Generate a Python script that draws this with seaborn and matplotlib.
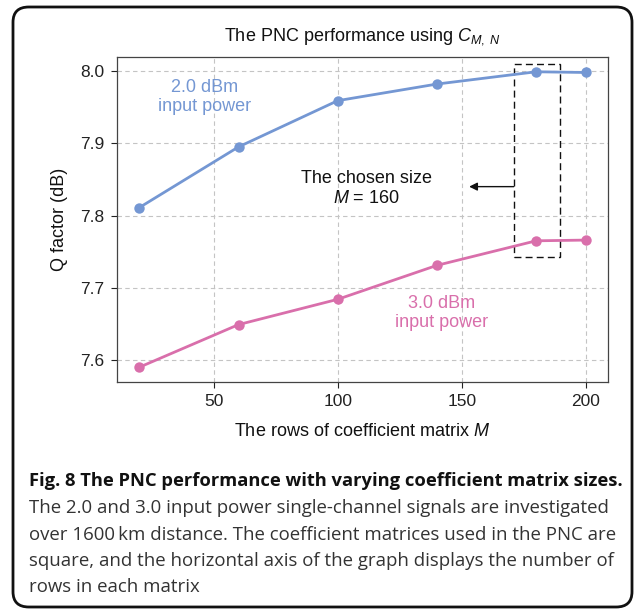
import matplotlib
matplotlib.use("Agg")
import matplotlib.pyplot as plt
import seaborn as sns
import pandas as pd
from matplotlib.patches import FancyBboxPatch, Rectangle

# ---- data ----
rows_m = [20, 60, 100, 140, 180, 200]
q_2dbm = [7.811, 7.895, 7.959, 7.982, 7.999, 7.998]
q_3dbm = [7.590, 7.649, 7.684, 7.731, 7.765, 7.766]
series_names = ["2.0 dBm", "3.0 dBm"]
x_ticks = [50, 100, 150, 200]
y_ticks = [7.6, 7.7, 7.8, 7.9, 8.0]

title = "The PNC performance using $C_{M,\\ N}$"
xlabel = "The rows of coefficient matrix $M$"
ylabel = "Q factor (dB)"
caption_bold = "Fig. 8 The PNC performance with varying coefficient matrix sizes."
caption_lines = [
    "The 2.0 and 3.0 input power single-channel signals are investigated",
    "over 1600\u2009km distance. The coefficient matrices used in the PNC are",
    "square, and the horizontal axis of the graph displays the number of",
    "rows in each matrix",
]

df = pd.DataFrame({
    "M": rows_m * 2,
    "Q": q_2dbm + q_3dbm,
    "power": [series_names[0]] * len(rows_m) + [series_names[1]] * len(rows_m),
})

blue = "#7497d3"
pink = "#d96fab"
fs = 13

sns.set_theme(style="ticks")
plt.rcParams["font.family"] = ["Liberation Sans", "DejaVu Sans"]
plt.rcParams["mathtext.fontset"] = "custom"
plt.rcParams["mathtext.rm"] = "Liberation Sans"
plt.rcParams["mathtext.it"] = "Liberation Sans:italic"

fig = plt.figure(figsize=(6.34, 6.10), dpi=100)
ax = fig.add_axes([117 / 634, 1 - 382 / 610, (608 - 117) / 634, (382 - 57) / 610])

sns.lineplot(data=df, x="M", y="Q", hue="power", palette=[blue, pink],
             marker="o", markersize=7.5, markeredgewidth=0, linewidth=2.0,
             legend=False, ax=ax)

ax.set_xticks(x_ticks)
ax.set_yticks(y_ticks)
ax.set_yticklabels([f"{v:.1f}" for v in y_ticks])
ax.tick_params(labelsize=12.5, colors="#222222", length=4, width=0.8, pad=5)
ax.grid(True, linestyle=(0, (4, 3)), color="#c4c4c4", linewidth=0.8)
ax.set_axisbelow(True)
for s in ax.spines.values():
    s.set_visible(True)
    s.set_color("#444444")
    s.set_linewidth(0.9)

ax.set_xlabel(xlabel, fontsize=fs, color="#111111", labelpad=10)
ax.set_ylabel(ylabel, fontsize=fs, color="#111111", labelpad=9)
ax.set_title(title, fontsize=fs, color="#111111", pad=12)

# annotations
ax.text(46.4, 7.9645, "2.0 dBm\ninput power", color=blue, fontsize=fs,
        ha="center", va="center", linespacing=1.15)
ax.text(142, 7.6645, "3.0 dBm\ninput power", color=pink, fontsize=fs,
        ha="center", va="center", linespacing=1.15)
ax.text(111.5, 7.851, "The chosen size", color="#111111", fontsize=fs,
        ha="center", va="center")
ax.text(111.5, 7.823, "$M$ = 160", color="#111111", fontsize=fs,
        ha="center", va="center")
ax.add_patch(Rectangle((171, 7.742), 18.5, 8.0097 - 7.742, fill=False,
                       linestyle=(0, (5, 3)), edgecolor="#111111", linewidth=1.0))
ax.annotate("", xy=(153, 7.84), xytext=(171, 7.84),
            arrowprops=dict(arrowstyle="-|>", color="#111111", lw=1.0,
                            mutation_scale=12, shrinkA=0, shrinkB=0))

# caption
cap_x = 29 / 634
cap_font = ["Open Sans", "DejaVu Sans"]
fig.text(cap_x, 1 - 481 / 610, caption_bold, fontsize=13.2, fontweight="bold",
         family=cap_font, ha="left", va="center", color="#111111")
for i, line in enumerate(caption_lines):
    y = 508 + i * 26.5
    fig.text(cap_x, 1 - y / 610, line, fontsize=13.4,
             family=cap_font, ha="left", va="center", color="#333333")

# rounded frame
frame = FancyBboxPatch((13 / 634, 3 / 610), (632 - 13) / 634, (605 - 5) / 610,
                       boxstyle="round,pad=0,rounding_size=0.025",
                       transform=fig.transFigure, fill=False,
                       edgecolor="#111111", linewidth=2.0)
fig.patches.append(frame)

fig.savefig("out.png", dpi=100)
